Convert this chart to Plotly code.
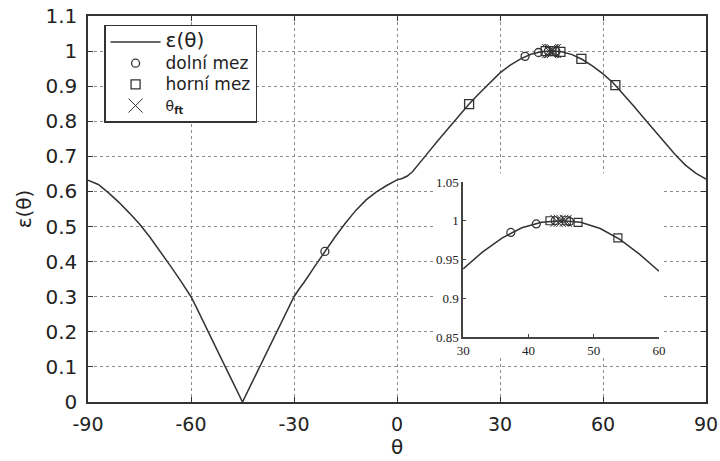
import plotly.graph_objects as go

# ---- data ----
theta = [-90, -87, -84, -81, -78, -75, -72, -69, -66, -63, -61.5, -60, -58.5, -57, -54, -51, -48, -45,
         -42, -39, -36, -33, -31.5, -30, -28.5, -27, -24, -21, -18, -15, -12, -9, -6, -3, -1.5, 0,
         1.5, 3, 4.5, 6, 9, 12, 15, 18, 21, 24, 27, 30, 33, 36, 39, 42, 45,
         48, 51, 54, 57, 60, 63, 66, 69, 72, 75, 78, 81, 84, 87, 90]
eps = [0.632, 0.620, 0.596, 0.569, 0.539, 0.507, 0.470, 0.430, 0.388, 0.345, 0.323, 0.300, 0.271, 0.240, 0.180, 0.120, 0.060, 0.000,
       0.060, 0.120, 0.180, 0.240, 0.271, 0.300, 0.322, 0.342, 0.386, 0.429, 0.471, 0.510, 0.546, 0.576, 0.599, 0.617, 0.626, 0.633,
       0.637, 0.644, 0.656, 0.673, 0.710, 0.746, 0.781, 0.815, 0.849, 0.880, 0.909, 0.938, 0.960, 0.978, 0.991, 0.998, 1.000,
       0.998, 0.990, 0.976, 0.957, 0.935, 0.909, 0.877, 0.843, 0.808, 0.774, 0.739, 0.705, 0.675, 0.652, 0.635]

lower_theta = [-21.0, 37.3, 41.2, 44.1, 46.3]
lower_eps = [0.429, 0.985, 0.996, 1.000, 0.999]

upper_theta = [21.0, 43.3, 45.8, 47.6, 53.7, 63.6]
upper_eps = [0.849, 1.000, 1.000, 0.998, 0.978, 0.903]

ft_theta = [44.3, 44.8, 45.2, 45.7]
ft_eps = [1.000, 1.000, 1.000, 1.000]

x_ticks = [-90, -60, -30, 0, 30, 60, 90]
x_labels = ["-90", "-60", "-30", "0", "30", "60", "90"]
y_ticks = [0, 0.1, 0.2, 0.3, 0.4, 0.5, 0.6, 0.7, 0.8, 0.9, 1.0, 1.1]
y_labels = ["0", "0.1", "0.2", "0.3", "0.4", "0.5", "0.6", "0.7", "0.8", "0.9", "1", "1.1"]
inset_x_ticks = [30, 40, 50, 60]
inset_y_ticks = [0.85, 0.9, 0.95, 1.0, 1.05]
inset_y_labels = ["0.85", "0.9", "0.95", "1", "1.05"]

# white panel behind the inset (in main-axis units), hides the main grid there
panel_x = [11.3, 77.5]
panel_y = [0.128, 0.652]

INK = "#333333"


def sub(xs, ys, lo, hi):
    pts = [(a, b) for a, b in zip(xs, ys) if lo <= a <= hi]
    return [p[0] for p in pts], [p[1] for p in pts]


fig = go.Figure()

# main plot
fig.add_trace(go.Scatter(x=theta, y=eps, mode="lines", line=dict(color=INK, width=1.5),
                         name='<span style="font-size:20px">ε(θ)</span>'))
fig.add_trace(go.Scatter(x=lower_theta, y=lower_eps, mode="markers",
                         name='<span style="font-size:17px">dolní mez</span>',
                         marker=dict(symbol="circle-open", size=8, color=INK, line=dict(width=1.3))))
fig.add_trace(go.Scatter(x=upper_theta, y=upper_eps, mode="markers",
                         name='<span style="font-size:17px">horní mez</span>',
                         marker=dict(symbol="square-open", size=9, color=INK, line=dict(width=1.3))))
fig.add_trace(go.Scatter(x=ft_theta, y=ft_eps, mode="markers",
                         name='<span style="font-size:14px">θ<sub><b>ft</b></sub></span>',
                         marker=dict(symbol="x-thin-open", size=14, color=INK, line=dict(width=1, color=INK))))

# inset
ix, iy = sub(theta, eps, 30, 60)
fig.add_trace(go.Scatter(x=ix, y=iy, mode="lines", line=dict(color=INK, width=1.5),
                         xaxis="x2", yaxis="y2", showlegend=False))
ix, iy = sub(lower_theta, lower_eps, 30, 60)
fig.add_trace(go.Scatter(x=ix, y=iy, mode="markers", xaxis="x2", yaxis="y2", showlegend=False,
                         marker=dict(symbol="circle-open", size=8, color=INK, line=dict(width=1.2))))
ix, iy = sub(upper_theta, upper_eps, 30, 60)
fig.add_trace(go.Scatter(x=ix, y=iy, mode="markers", xaxis="x2", yaxis="y2", showlegend=False,
                         marker=dict(symbol="square-open", size=8, color=INK, line=dict(width=1.2))))
fig.add_trace(go.Scatter(x=ft_theta, y=ft_eps, mode="markers", xaxis="x2", yaxis="y2", showlegend=False,
                         marker=dict(symbol="x-thin-open", size=12, color=INK, line=dict(width=1, color=INK))))

fig.add_shape(type="rect", xref="x", yref="y",
              x0=panel_x[0], x1=panel_x[1], y0=panel_y[0], y1=panel_y[1],
              fillcolor="white", line=dict(width=0), layer="between")

axis_common = dict(ticks="inside", ticklen=5, tickcolor=INK,
                   showline=True, linecolor=INK, linewidth=1.5, mirror="ticks",
                   showgrid=True, gridcolor="#8c8c8c", griddash="dot", gridwidth=1, zeroline=False,
                   automargin=False)

fig.update_layout(
    width=720, height=461,
    margin=dict(l=88, r=14, t=16, b=59),
    paper_bgcolor="white", plot_bgcolor="white",
    font=dict(family="DejaVu Sans", color="#222222"),
    showlegend=True,
    legend=dict(x=0.026, y=0.977, xanchor="left", yanchor="top",
                bgcolor="white", bordercolor=INK, borderwidth=1.5,
                font=dict(size=14, family="DejaVu Sans", color="#222222"),
                itemwidth=50, tracegroupgap=0),
    xaxis=dict(range=[-90, 90], tickvals=x_ticks, ticktext=x_labels, ticklabelstandoff=4,
               tickfont=dict(size=19),
               title=dict(text="θ", font=dict(size=20), standoff=6), **axis_common),
    yaxis=dict(range=[0, 1.1], tickvals=y_ticks, ticktext=y_labels, ticklabelstandoff=5,
               tickfont=dict(size=20),
               title=dict(text="ε(θ)", font=dict(size=20), standoff=8), **axis_common),
    xaxis2=dict(domain=[0.607, 0.924], anchor="y2", range=[30, 60], tickvals=inset_x_ticks,
                showline=True, linecolor="#444444", linewidth=1.5, showgrid=False, zeroline=False,
                ticks="inside", ticklen=3, tickcolor="#444444", automargin=False,
                tickfont=dict(family="Liberation Serif", size=13, color="#222222")),
    yaxis2=dict(domain=[0.168, 0.570], anchor="x2", range=[0.85, 1.05], tickvals=inset_y_ticks,
                ticktext=inset_y_labels,
                showline=True, linecolor="#444444", linewidth=1.5, showgrid=False, zeroline=False,
                ticks="inside", ticklen=3, tickcolor="#444444", automargin=False,
                tickfont=dict(family="Liberation Serif", size=13, color="#222222")),
)

fig.write_html("out.html")
